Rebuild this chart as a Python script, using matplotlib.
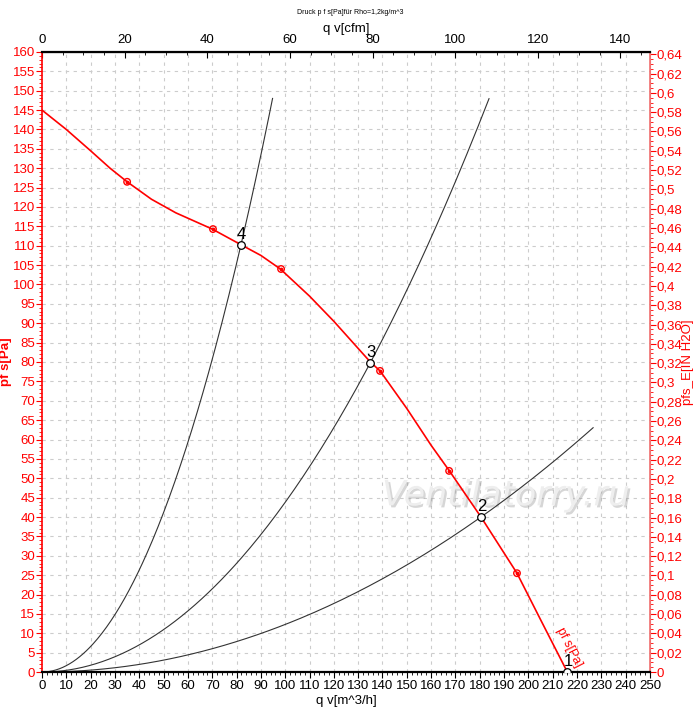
import matplotlib.pyplot as plt
import matplotlib.patheffects as pe
import numpy as np
from matplotlib.ticker import MultipleLocator, FixedLocator, FuncFormatter

plt.rcParams['font.family'] = ['Liberation Sans', 'DejaVu Sans']

# fan curve pf s [Pa] over q v [m^3/h]
fan_q = [0, 10, 20, 28, 35, 45, 55, 70, 82, 90, 98, 110, 120, 135, 139, 150, 160, 167.4, 180.5, 195.3, 205, 216]
fan_p = [145, 140, 134.5, 130, 126.5, 122, 118.5, 114.3, 110.2, 107.5, 104, 97, 90.5, 80, 77.7, 68, 58.5, 52, 40, 25.5, 13.5, 0]

# measured points on the fan curve
meas_q = [35, 70.3, 98.3, 139, 167.4, 195.3]
meas_p = [126.5, 114.3, 104, 77.7, 51.9, 25.5]

# operating points
op_q = [216, 180.5, 134.9, 81.8]
op_p = [0, 40, 79.7, 110.2]
op_lbl = ['1', '2', '3', '4']

# system curves: end flow of each parabola
sys_end = [94.8, 183.8, 226.6]

cfm_ticks = [0, 20, 40, 60, 80, 100, 120, 140]

PA_PER_INH2O = 249.089
M3H_TO_CFM = 0.588578

fig = plt.figure(figsize=(7, 7.14), dpi=100)
ax = fig.add_axes([0.06, 0.0588, 0.8686, 0.8684])

ax.set_xlim(0, 250)
ax.set_ylim(0, 160)

# grid
for gx in np.arange(10, 250, 10):
    ax.axvline(gx, color='#cccccc', lw=0.8, ls=(0, (3, 4)), zorder=0)
for gy in np.arange(5, 160, 5):
    ax.axhline(gy, color='#cccccc', lw=0.8, ls=(0, (3, 4)), zorder=0)

# system curves through the operating points 4, 3, 2
for qe, qo, po in zip(sys_end, op_q[3:0:-1], op_p[3:0:-1]):
    k = po / qo ** 2
    q = np.linspace(3, qe, 200)
    ax.plot(q, k * q ** 2, color='#333333', lw=0.8, zorder=2)

ax.plot(fan_q, fan_p, color='red', lw=1.2, zorder=3)
ax.scatter(meas_q, meas_p, s=22, facecolors='none', edgecolors='red', lw=1.0, zorder=4)
ax.scatter(meas_q, meas_p, s=3, color='red', zorder=4)

ax.scatter(op_q, op_p, s=30, facecolors='white', edgecolors='black', lw=0.9, zorder=5)
for q, p, t in zip(op_q, op_p, op_lbl):
    ax.text(q + 0.3, p + 0.8, t, fontsize=12, ha='center', va='bottom', zorder=6)

ax.text(210.5, 10.5, 'pf s[Pa]', color='red', fontsize=9, rotation=-63,
        rotation_mode='anchor', ha='left', va='bottom', zorder=6)

ax.text(0.763, 0.285, 'Ventilatorry.ru', transform=ax.transAxes, fontsize=25,
        style='italic', color='#eeeeee', ha='center', va='center', zorder=1,
        family='DejaVu Sans',
        path_effects=[pe.withSimplePatchShadow(offset=(1.5, -1.5), shadow_rgbFace='#999999', alpha=0.4)])

# axes styling
ax.spines['bottom'].set_linewidth(1.6)
ax.spines['top'].set_linewidth(1.6)
ax.spines['left'].set_color('red')
ax.spines['left'].set_linewidth(1.2)
ax.spines['right'].set_color('#f07070')
ax.spines['right'].set_linewidth(1.2)

ax.xaxis.set_major_locator(MultipleLocator(10))
ax.xaxis.set_minor_locator(MultipleLocator(2))
ax.yaxis.set_major_locator(MultipleLocator(5))
ax.yaxis.set_minor_locator(MultipleLocator(1))
ax.tick_params(axis='x', which='major', labelsize=9.5, length=4, pad=2)
ax.tick_params(axis='x', which='minor', length=2)
ax.tick_params(axis='y', which='both', colors='red', labelsize=9.5)
ax.tick_params(axis='y', which='major', length=4, pad=1)
ax.tick_params(axis='y', which='minor', length=2)
ax.set_xlabel('q v[m^3/h]', fontsize=9.5, labelpad=2)
ax.set_ylabel('pf s[Pa]', color='red', fontsize=9.5, fontweight='bold')
ax.yaxis.set_label_coords(-0.05, 0.5)

top = ax.secondary_xaxis('top', functions=(lambda x: x * M3H_TO_CFM, lambda c: c / M3H_TO_CFM))
top.xaxis.set_major_locator(FixedLocator(cfm_ticks))
top.xaxis.set_minor_locator(FixedLocator(np.arange(0, 146, 5)))
top.tick_params(which='both', direction='in')
top.tick_params(which='major', labelsize=9.5, length=4, pad=4)
top.tick_params(which='minor', length=2)
top.set_xlabel('q v[cfm]', fontsize=9.5, labelpad=2)

right = ax.secondary_yaxis('right', functions=(lambda p: p / PA_PER_INH2O, lambda h: h * PA_PER_INH2O))
right.yaxis.set_major_locator(FixedLocator(np.round(np.arange(0, 0.645, 0.02), 2)))
right.yaxis.set_minor_locator(FixedLocator(np.arange(0, 0.642, 0.005)))
right.yaxis.set_major_formatter(FuncFormatter(lambda v, pos: ('%g' % round(v, 2)).replace('.', ',')))
right.tick_params(which='both', colors='red', labelsize=9.5)
right.tick_params(which='major', length=4, pad=1)
right.tick_params(which='minor', length=2)
right.spines['right'].set_color('#f07070')

fig.text(688 / 700, 1 - 362 / 714, 'pfs_E[IN H2O]', color='red', fontsize=9.5,
         rotation=90, ha='center', va='center')

fig.text(0.5, 1 - 13 / 714, 'Druck p f s[Pa]für Rho=1,2kg/m^3', fontsize=5, ha='center', va='center')

fig.savefig('out.png', dpi=100)
